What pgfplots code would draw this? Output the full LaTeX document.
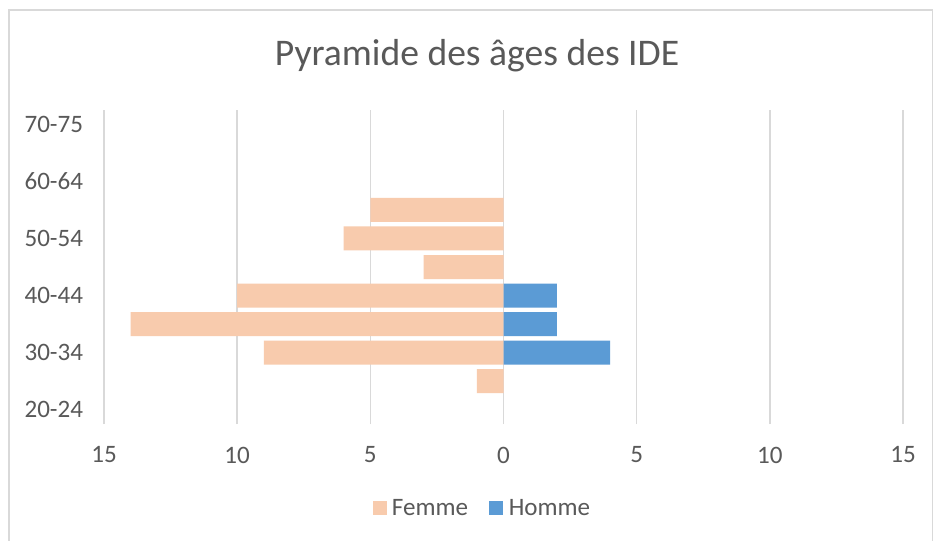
\documentclass[border=0pt]{standalone}
\usepackage{fontspec}
\setmainfont{Carlito}
\usepackage{pgfplots}
\pgfplotsset{compat=1.18}
\definecolor{femme}{HTML}{F8CBAD}
\definecolor{homme}{HTML}{5B9BD5}
\definecolor{txt}{HTML}{595959}
\definecolor{gridc}{HTML}{D9D9D9}
\definecolor{framec}{HTML}{D9D9D9}
\begin{document}
\begin{tikzpicture}
\useasboundingbox (0,0) rectangle (699.75pt,405pt);
\fill[white] (0,0) rectangle (699.75pt,405pt);
\draw[framec, line width=0.8pt] (6.75pt,-1pt) -- (6.75pt,397.5pt) -- (699.3pt,397.5pt) -- (699.3pt,-1pt);
\node[text=txt, font=\fontsize{28.2}{33}\selectfont] at (357.75pt,363pt) {Pyramide des âges des IDE};
\begin{axis}[
  at={(78pt,87pt)}, anchor=south west,
  scale only axis, width=599.25pt, height=235.5pt,
  xmin=-15, xmax=15, ymin=-0.5, ymax=10.5,
  xtick={-15,-10,-5,0,5,10,15},
  xticklabels={15,10,5,0,5,10,15},
  ytick={0,2,4,6,8,10},
  yticklabels={20-24,30-34,40-44,50-54,60-64,70-75},
  xmajorgrids=true, ymajorgrids=false,
  x grid style={draw=gridc, line width=1.2pt},
  axis line style={draw=none},
  major tick length=0pt,
  tick style={draw=none},
  tick label style={text=txt, font=\fontsize{18.8}{22}\selectfont},
  xticklabel style={anchor=center, yshift=-23.25pt},
  yticklabel style={anchor=east, inner sep=0pt, xshift=-15.5pt},
  xbar, bar width=18pt, bar shift=0pt,
  legend columns=2,
  legend style={at={(0.474,-0.2675)}, anchor=center, draw=none, fill=none,
    font=\fontsize{18.8}{22}\selectfont, text=txt,
    /tikz/every even column/.append style={column sep=14pt}},
  legend image code/.code={\fill[#1] (0pt,-5.25pt) rectangle (10.5pt,5.25pt);},
  legend cell align=left,
]
\addplot[fill=femme, draw=none] coordinates {
  (-1,1) (-9,2) (-14,3) (-10,4) (-3,5) (-6,6) (-5,7)
};
\addlegendentry{\hspace{2pt}Femme}
\addplot[fill=homme, draw=none] coordinates {
  (4,2) (2,3) (2,4)
};
\addlegendentry{\hspace{2pt}Homme}
\end{axis}
\end{tikzpicture}
\end{document}
